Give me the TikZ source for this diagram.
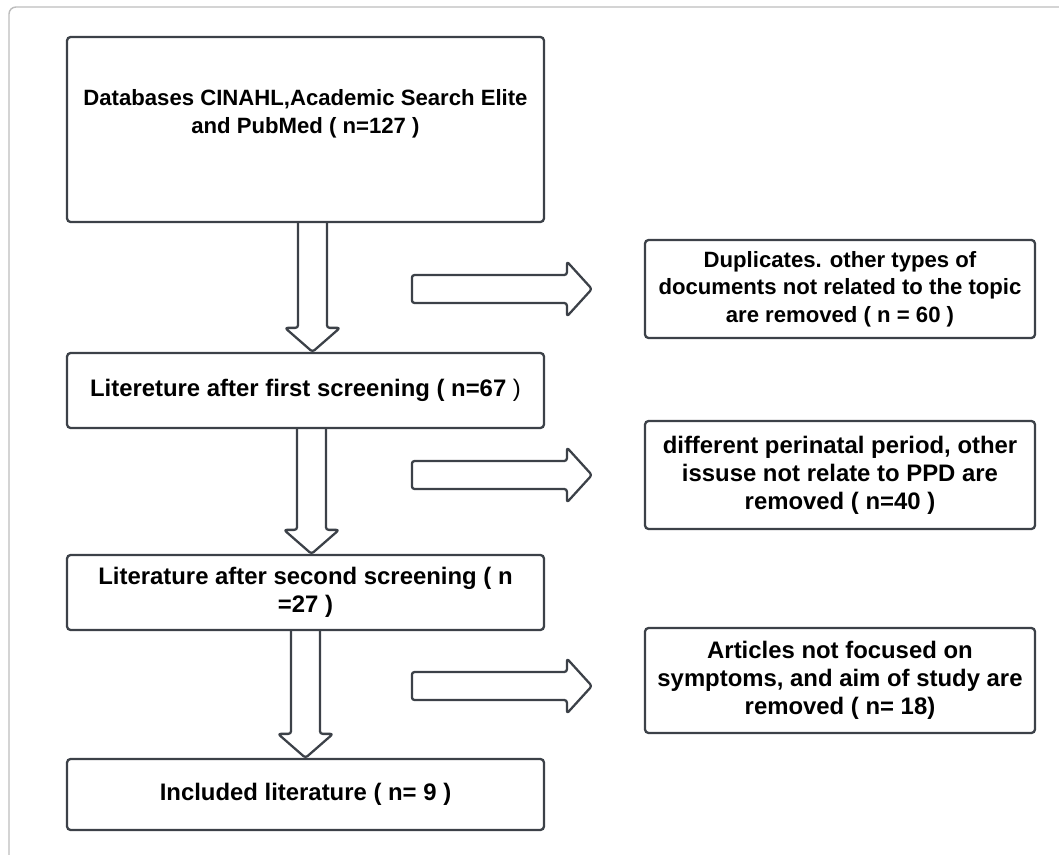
\documentclass[tikz,border=0pt]{standalone}
\usepackage{fontspec}
\setmainfont{Liberation Sans}
\usetikzlibrary{calc,positioning}
\definecolor{boxline}{HTML}{3C4148}
\definecolor{framegray}{HTML}{BDBDBD}
\tikzset{
	stagebox/.style={draw=boxline,line width=1.3pt,rounded corners=2pt,minimum width=9.54cm,inner sep=0pt,align=center,font=\fontsize{13.6}{15.9}\selectfont\bfseries},
	exclbox/.style={draw=boxline,line width=1.3pt,rounded corners=2pt,minimum width=7.8cm,inner sep=0pt,align=center,font=\fontsize{13.6}{15.9}\selectfont\bfseries},
	boxtext/.style={align=center,inner sep=0pt,font=\fontsize{12.6}{15.9}\selectfont\bfseries},
	blockarrow/.style={draw=boxline,line width=1.3pt,rounded corners=1.5pt,line join=round},
	framebox/.style={draw=framegray,line width=0.8pt,rounded corners=4pt}
}
% hollow arrow going down: #1 top of shaft, #2 tip
\newcommand{\downblock}[2]{%
	\draw[blockarrow] ($(#1)+(-14.5,0)$) -- ($(#1|-#2)+(-14.5,-24)$) -- ($(#1|-#2)+(-27.5,-24)$) -- (#1|-#2) -- ($(#1|-#2)+(27.5,-24)$) -- ($(#1|-#2)+(14.5,-24)$) -- ($(#1)+(14.5,0)$);
}
% hollow arrow going right: #1 tail, #2 tip
\newcommand{\rightblock}[2]{%
	\draw[blockarrow] ($(#1)+(0,-14)$) -- ($(#2)+(-25,-14)$) -- ($(#2)+(-25,-27.5)$) -- (#2) -- ($(#2)+(-25,27.5)$) -- ($(#2)+(-25,14)$) -- ($(#1)+(0,14)$) -- cycle;
}
\begin{document}
\begin{tikzpicture}[x=0.02cm,y=-0.02cm]
	\useasboundingbox (0,0) rectangle (1059,855);
	\draw[framebox] (9,860) -- (9,7) -- (1065,7);

	%%search and screening stages
	\node[stagebox,minimum height=3.7cm] (db) at (305.5,129.5) {};
	\node[boxtext] (dbtext) at (305.5,114) {Databases CINAHL,Academic Search Elite\\and PubMed ( n=127 )};
	\node[stagebox,minimum height=1.5cm] (scr1) at (305.5,390.5) {Litereture after first screening ( n=67 {\mdseries )}};
	\node[stagebox,minimum height=1.5cm] (scr2) at (305.5,592.5) {Literature after second screening ( n\\=27 )};
	\node[stagebox,minimum height=1.42cm] (incl) at (305.5,794.5) {Included literature ( n= 9 )};

	%%excluded records
	\node[exclbox,minimum height=1.96cm,font=\fontsize{12.6}{15.6}\selectfont\bfseries] (ex1) at (840,289) {Duplicates. other types of\\documents not related to the topic\\are removed ( n = 60 )};
	\node[exclbox,minimum height=2.16cm] (ex2) at (840,475) {different perinatal period, other\\issuse not relate to PPD are\\removed ( n=40 )};
	\node[exclbox,minimum height=2.1cm] (ex3) at (840,680.5) {Articles not focused on\\symptoms, and aim of study are\\removed ( n= 18)};

	%%down arrows
	\coordinate (d1) at ($(db.south)+(7,0)$);
	\coordinate (d2) at ($(scr1.south)+(6,0)$);
	\coordinate (d3) at (scr2.south);
	\downblock{d1}{scr1.north}
	\downblock{d2}{scr2.north}
	\downblock{d3}{incl.north}

	%%right arrows
	\coordinate (r1tip) at ($(ex1.west)+(-52,0)$);
	\coordinate (r1) at ($(r1tip)+(-180,0)$);
	\coordinate (r2tip) at ($(ex2.west)+(-52,0)$);
	\coordinate (r2) at ($(r2tip)+(-180,0)$);
	\coordinate (r3tip) at ($(ex3.west)+(-52,5.5)$);
	\coordinate (r3) at ($(r3tip)+(-180,0)$);
	\rightblock{r1}{r1tip}
	\rightblock{r2}{r2tip}
	\rightblock{r3}{r3tip}
\end{tikzpicture}
\end{document}
